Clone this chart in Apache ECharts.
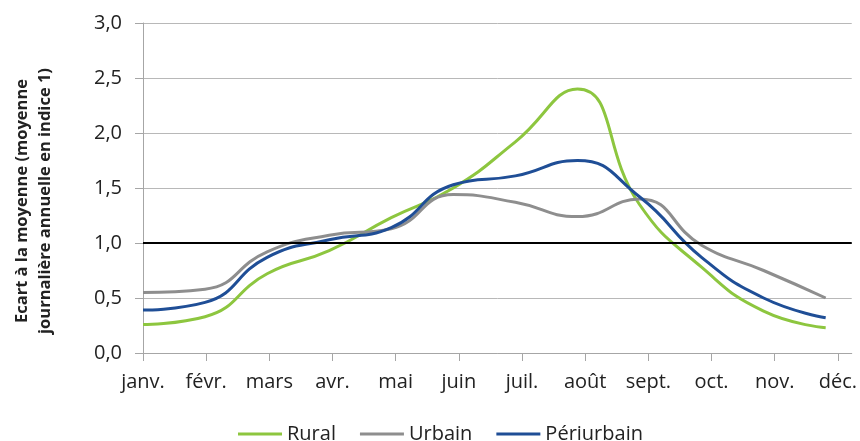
<!DOCTYPE html>
<html>
<head>
<meta charset="utf-8">
<script src="https://cdn.jsdelivr.net/npm/echarts@6/dist/echarts.min.js"></script>
<style>
html,body{margin:0;padding:0;background:#fff;}
#c{width:860px;height:441px;}
</style>
</head>
<body>
<div id="c"></div>
<script>
var months = ['janv.', 'févr.', 'mars', 'avr.', 'mai', 'juin', 'juil.', 'août', 'sept.', 'oct.', 'nov.', 'déc.'];
var rural = [0.26, 0.33, 0.72, 0.93, 1.23, 1.50, 1.92, 2.40, 1.35, 0.78, 0.38, 0.23];
var urbain = [0.55, 0.58, 0.92, 1.07, 1.13, 1.44, 1.37, 1.24, 1.40, 0.98, 0.75, 0.50];
var periurbain = [0.39, 0.46, 0.87, 1.03, 1.14, 1.53, 1.61, 1.75, 1.42, 0.87, 0.50, 0.32];
var seriesNames = ['Rural', 'Urbain', 'Périurbain'];
var yTicks = [0, 0.5, 1, 1.5, 2, 2.5, 3];
var refLine = 1;

var FONT = 'Open Sans';
var chart = echarts.init(document.getElementById('c'), null, {renderer: 'canvas'});
function pts(arr) { return arr.map(function (v, i) { return [i, v]; }); }
var monthIdx = months.map(function (m, i) { return i; });

function mkSeries(name, arr, color, extra) {
  var s = {
    name: name, type: 'line', xAxisIndex: 1, data: pts(arr),
    smooth: 0.5, showSymbol: false, symbol: 'none',
    lineStyle: {color: color, width: 3}, itemStyle: {color: color},
    emphasis: {disabled: true}
  };
  if (extra) for (var k in extra) s[k] = extra[k];
  return s;
}

chart.setOption({
  animation: false,
  grid: {left: 143, right: 8, top: 23, bottom: 88},
  legend: {
    left: 233, top: 419, icon: 'rect', itemWidth: 44, itemHeight: 3, itemGap: 24,
    textStyle: {fontFamily: FONT, fontSize: 20, color: '#222'},
    data: seriesNames
  },
  xAxis: [{
    type: 'value', min: 0, max: 11.22,
    axisLine: {show: true, lineStyle: {color: '#a6a6a6', width: 1}},
    axisTick: {show: true, length: 8, customValues: monthIdx, lineStyle: {color: '#a6a6a6'}},
    axisLabel: {customValues: monthIdx, margin: 19, fontFamily: FONT, fontSize: 20, color: '#222',
      formatter: function (v) { return months[Math.round(v)]; }},
    splitLine: {show: false}
  }, {
    type: 'value', min: 0, max: 11.42, show: false
  }],
  yAxis: {
    type: 'value', min: 0, max: 3, interval: 0.5,
    name: 'Ecart à la moyenne (moyenne\njournalière annuelle en indice 1)',
    nameLocation: 'middle', nameGap: 86, nameRotate: 90,
    nameTextStyle: {fontFamily: FONT, fontSize: 16.5, fontWeight: 'bold', color: '#222', lineHeight: 23, padding: [0, 26, 0, 0]},
    axisLine: {show: true, lineStyle: {color: '#a6a6a6', width: 1}},
    axisTick: {show: true, length: 8, lineStyle: {color: '#a6a6a6'}},
    axisLabel: {margin: 21, fontFamily: FONT, fontSize: 20, color: '#222',
      formatter: function (v) { return v.toFixed(1).replace('.', ','); }},
    splitLine: {show: true, lineStyle: {color: '#b8b8b8', width: 1}}
  },
  series: [
    mkSeries(seriesNames[0], rural, '#8dc63f', {
      markLine: {silent: true, symbol: ['none', 'none'], label: {show: false},
        lineStyle: {color: '#000', width: 2, type: 'solid'}, emphasis: {disabled: true},
        data: [{yAxis: refLine}]}
    }),
    mkSeries(seriesNames[1], urbain, '#8e8e8e'),
    mkSeries(seriesNames[2], periurbain, '#1f4e96')
  ]
});
</script>
</body>
</html>
